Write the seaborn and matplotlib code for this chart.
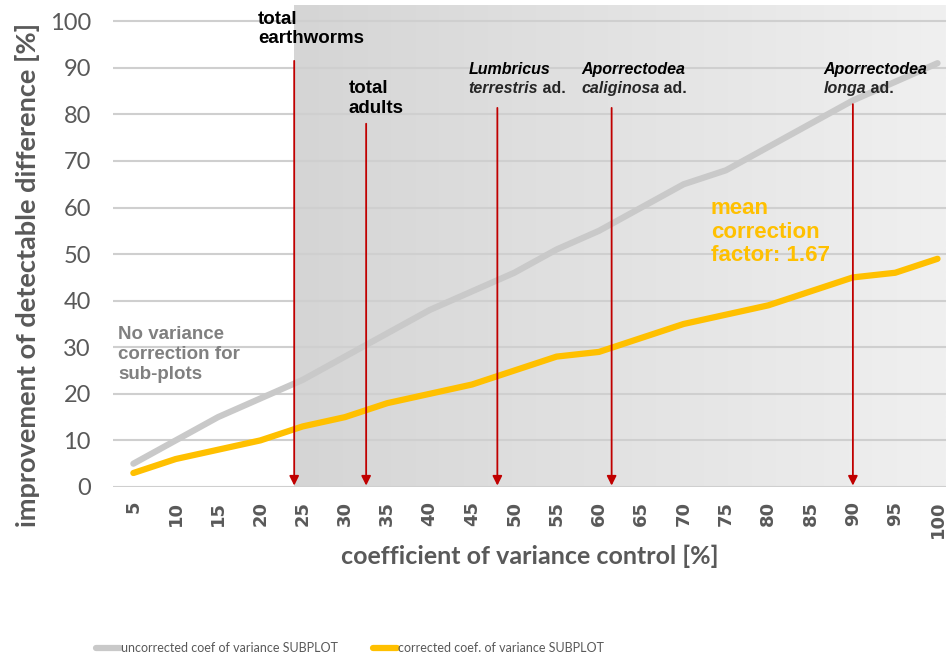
import numpy as np
import pandas as pd
import matplotlib
matplotlib.use('Agg')
import matplotlib.pyplot as plt
import seaborn as sns
from matplotlib.colors import LinearSegmentedColormap
from matplotlib.lines import Line2D

# ==================== DATA ====================
cv_control = [5, 10, 15, 20, 25, 30, 35, 40, 45, 50,
              55, 60, 65, 70, 75, 80, 85, 90, 95, 100]
uncorrected = [5, 10, 15, 19, 23, 28, 33, 38, 42, 46,
               51, 55, 60, 65, 68, 73, 78, 83, 87, 91]
corrected = [3, 6, 8, 10, 13, 15, 18, 20, 22, 25,
             28, 29, 32, 35, 37, 39, 42, 45, 46, 49]

series_names = ['uncorrected coef of variance SUBPLOT',
                'corrected coef. of variance SUBPLOT']

# arrows: x position and top of arrow
arrow_x = [24, 32.5, 48, 61.5, 90]
arrow_top = [91.5, 78, 81.4, 81.4, 82.2]

shade_start = 24

# ==================== STYLE ====================
sns.set_theme(style='white')
plt.rcParams['font.family'] = ['Lato', 'DejaVu Sans']

GREY_LINE = '#c9c9c9'
GOLD = '#ffc000'
DARK_RED = '#c00000'
TXT = '#595959'

df = pd.DataFrame({
    'cv': cv_control * 2,
    'value': uncorrected + corrected,
    'series': [series_names[0]] * len(cv_control) + [series_names[1]] * len(cv_control),
})

fig = plt.figure(figsize=(9.46, 6.64), dpi=100)
ax = fig.add_axes([0.1195, 0.2666, 0.8805, 0.7259])

xlim = (2.6, 101.0)
ylim = (0, 103.5)

# gradient background
cmap = LinearSegmentedColormap.from_list('bg', ['#d5d5d5', '#f0f0f0'])
ax.imshow(np.linspace(0, 1, 256).reshape(1, -1), cmap=cmap, aspect='auto',
          extent=[shade_start, xlim[1], ylim[0], ylim[1]], zorder=0)

sns.lineplot(data=df, x='cv', y='value', hue='series',
             palette={series_names[0]: GREY_LINE, series_names[1]: GOLD},
             linewidth=4.5, ax=ax, legend=False, zorder=2)

ax.set_xlim(*xlim)
ax.set_ylim(*ylim)
ax.set_xticks(cv_control)
ax.set_xticklabels([str(v) for v in cv_control], rotation=90,
                   fontsize=13, fontweight='bold', color=TXT, family='DejaVu Sans')
ax.set_yticks(range(0, 101, 10))
ax.set_yticklabels([str(v) for v in range(0, 101, 10)], fontsize=17, color=TXT)
ax.tick_params(axis='x', length=0, pad=10)
ax.tick_params(axis='y', length=0, pad=16)
ax.yaxis.grid(True, color='#cfcfcf', linewidth=1.5)
ax.xaxis.grid(False)
for s in ax.spines.values():
    s.set_visible(False)

ax.set_xlabel('coefficient of variance control [%]', fontsize=18,
              fontweight='bold', color=TXT)
ax.xaxis.set_label_coords(0.5, -0.12)
ax.set_ylabel('improvement of detectable difference [%]', fontsize=19.5,
              fontweight='bold', color=TXT)
ax.yaxis.set_label_coords(-0.088, 0.44)

# red arrows
for x, top in zip(arrow_x, arrow_top):
    ax.annotate('', xy=(x, 0.3), xytext=(x, top),
                arrowprops=dict(arrowstyle='-|>', color=DARK_RED, lw=1.3,
                                mutation_scale=14, shrinkA=0, shrinkB=0),
                zorder=4)

# annotation texts
bold = dict(family='Liberation Sans', fontweight='bold', color='black', va='top', ha='left')
ax.text(19.7, 102.3, 'total\nearthworms', fontsize=13.5, linespacing=1.2, **bold)
ax.text(30.4, 87.4, 'total\nadults', fontsize=13.5, linespacing=1.2, **bold)


def species_label(x, y, genus, species):
    t1 = ax.text(x, y, genus, fontsize=11.5, style='italic', **bold)
    t2 = ax.annotate(species, xy=(0, 0), xycoords=t1, xytext=(0, -3),
                     textcoords='offset points', fontsize=11.5, style='italic',
                     family='Liberation Sans', fontweight='bold', va='top', ha='left')
    ax.annotate(' ad.', xy=(1, 0), xycoords=t2, fontsize=11.5,
                family='Liberation Sans', fontweight='bold', va='bottom', ha='left')


species_label(44.6, 91.2, 'Lumbricus', 'terrestris')
species_label(57.9, 91.2, 'Aporrectodea', 'caliginosa')
species_label(86.5, 91.2, 'Aporrectodea', 'longa')

ax.text(3.2, 34.6, 'No variance\ncorrection for\nsub-plots', fontsize=13.5,
        family='Liberation Sans', fontweight='bold', color='#808080',
        va='top', ha='left', linespacing=1.25, zorder=5)
ax.text(73.2, 62.0, 'mean\ncorrection\nfactor: 1.67', fontsize=16,
        family='Liberation Sans', fontweight='bold', color=GOLD,
        va='top', ha='left', linespacing=1.15, zorder=5)

# legend at the bottom
handles = [Line2D([], [], color=GREY_LINE, lw=4.5),
           Line2D([], [], color=GOLD, lw=4.5)]
fig.legend(handles, series_names, loc='center', bbox_to_anchor=(0.37, 0.024),
           ncol=2, frameon=False, handlelength=1.9, handletextpad=0.1,
           columnspacing=2.8, prop={'family': 'Lato', 'size': 9},
           labelcolor=TXT)

fig.savefig('out.png', dpi=100)
